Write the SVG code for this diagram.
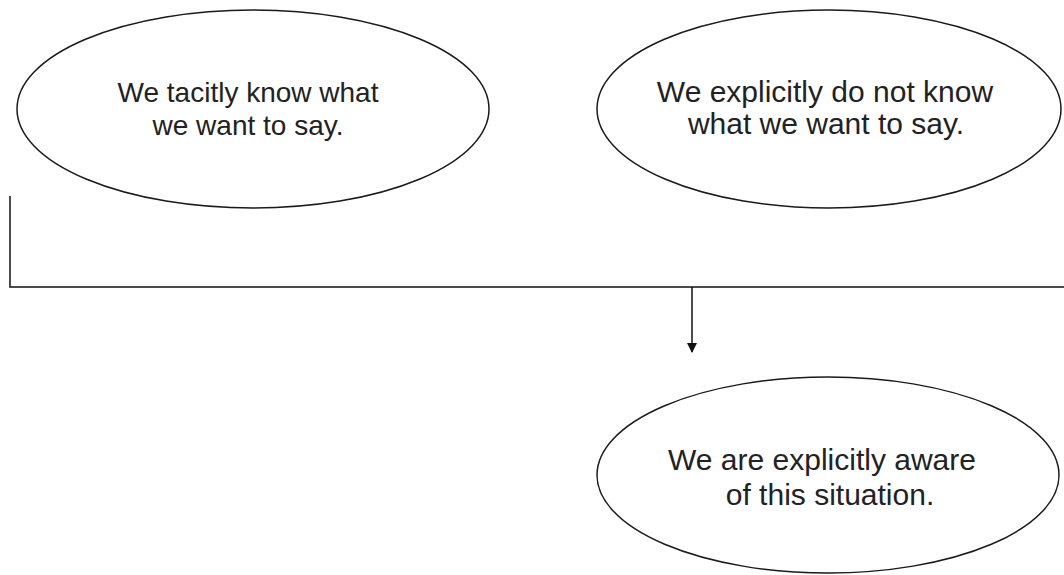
<svg xmlns="http://www.w3.org/2000/svg" width="1064" height="575" viewBox="0 0 1064 575">
<style>
.node ellipse{fill:#fff;stroke:#1a1a1a;stroke-width:1.5}
.node text{font-family:"Liberation Sans",Arial,sans-serif;font-size:28px;fill:#222;text-anchor:middle}
.node text.big{font-size:30px}
.conn{fill:none;stroke:#111;stroke-width:1.5}
</style>
<defs>
<marker id="arr" markerWidth="10" markerHeight="13" refX="9" refY="5" orient="auto" markerUnits="userSpaceOnUse" viewBox="0 0 10 10">
<path d="M0,0 L10,5 L0,10 z" fill="#111"/>
</marker>
</defs>
<rect width="1064" height="575" fill="#fff"/>
<g id="node-tacit" class="node">
<ellipse cx="253" cy="109" rx="236" ry="99"/>
<text x="248" y="102">We tacitly know what</text>
<text x="248" y="135">we want to say.</text>
</g>
<g id="node-explicit" class="node">
<ellipse cx="829" cy="109" rx="232" ry="99"/>
<text class="big" x="825" y="102">We explicitly do not know</text>
<text class="big" x="826" y="134">what we want to say.</text>
</g>
<g id="node-aware" class="node">
<ellipse cx="828" cy="475" rx="231" ry="98"/>
<text class="big" x="822" y="470">We are explicitly aware</text>
<text class="big" x="830" y="505">of this situation.</text>
</g>
<g id="connectors">
<polyline class="conn" points="10,196 10,287 1064,287"/>
<line class="conn" x1="692" y1="287" x2="692" y2="352" marker-end="url(#arr)"/>
</g>
</svg>
